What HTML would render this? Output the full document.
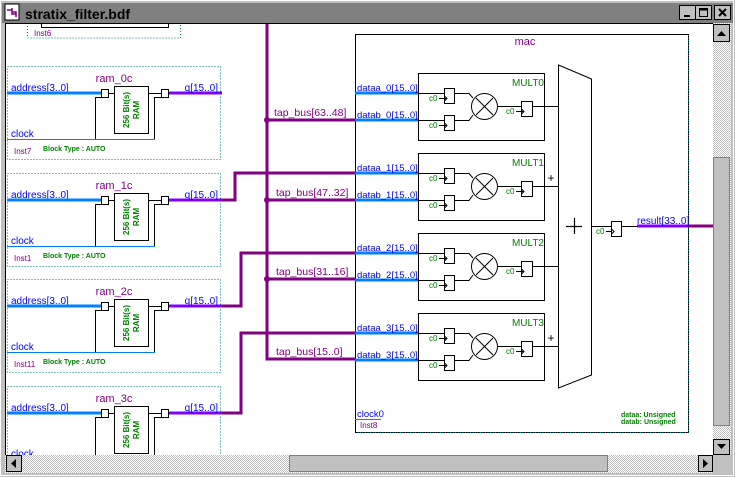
<!DOCTYPE html>
<html><head><meta charset="utf-8"><style>
html,body{margin:0;padding:0;background:#c0c0c0;}
svg{display:block;font-family:"Liberation Sans",sans-serif;}
</style></head><body>
<svg width="735" height="477" viewBox="0 0 735 477" xmlns="http://www.w3.org/2000/svg">
<defs>
<pattern id="chk" width="2" height="2" patternUnits="userSpaceOnUse"><rect width="2" height="2" fill="#fff"/><rect width="1" height="1" fill="#c0c0c0"/><rect x="1" y="1" width="1" height="1" fill="#c0c0c0"/></pattern>
</defs>
<rect x="0" y="0" width="735" height="477" fill="#c0c0c0"/>
<rect x="0.5" y="0.5" width="733" height="475" fill="none" stroke="#fff"/>
<rect x="2" y="3" width="731" height="20" fill="#808080"/>
<g>
<rect x="5" y="4" width="14" height="16" fill="#fff" stroke="#000"/>
<path d="M7 10 H12 M12 8 V14 H16 M12 12 H16 V17" stroke="#800080" stroke-width="1.5" fill="none"/>
</g>
<text x="25" y="19" font-size="14" font-weight="bold" fill="#000">stratix_filter.bdf</text>
<g fill="#c0c0c0" stroke="#000">
<rect x="679.5" y="5.5" width="16" height="14"/><rect x="695.5" y="5.5" width="16" height="14"/><rect x="714.5" y="5.5" width="16" height="14"/>
</g>
<path d="M684 16 H690" stroke="#000" stroke-width="2"/>
<rect x="699.5" y="8.5" width="8" height="8" fill="none" stroke="#000"/><path d="M699 9.5 H708" stroke="#000" stroke-width="2"/>
<path d="M719 9 L726 16 M726 9 L719 16" stroke="#000" stroke-width="2"/>
<rect x="5" y="23" width="708" height="432" fill="#fff"/>
<path d="M5.5 23 V455 M5 23.5 H713" stroke="#000" stroke-width="1"/>
<rect x="713" y="23" width="18" height="432" fill="url(#chk)"/>
<rect x="713.5" y="24.5" width="16" height="17" fill="#c0c0c0" stroke="#000"/>
<path d="M717 36 L721.5 31 L726 36 Z" fill="#000"/>
<rect x="713.5" y="157.5" width="16" height="268" fill="#c0c0c0" stroke="#808080"/>
<rect x="713.5" y="439.5" width="16" height="15" fill="#c0c0c0" stroke="#000"/>
<path d="M717 444 L721.5 449 L726 444 Z" fill="#000"/>
<rect x="5" y="455" width="708" height="18" fill="url(#chk)"/>
<rect x="6.5" y="455.5" width="15" height="16" fill="#c0c0c0" stroke="#000"/>
<path d="M11 463.5 L16 459 L16 468 Z" fill="#000"/>
<rect x="289.5" y="455.5" width="318" height="16" fill="#c0c0c0" stroke="#808080"/>
<rect x="698.5" y="455.5" width="14" height="16" fill="#c0c0c0" stroke="#000"/>
<path d="M708 463.5 L703 459 L703 468 Z" fill="#000"/>
<rect x="713" y="455" width="18" height="18" fill="#c0c0c0"/>

<svg x="6" y="24" width="707" height="431" viewBox="6 24 707 431">
<rect x="27.5" y="10" width="153" height="28" fill="none" stroke="#008080" stroke-dasharray="1,2"/>
<path d="M41.5 20 V27.5 H168.5 V20" fill="none" stroke="#000"/>
<text x="34" y="36" font-size="8" fill="#800080">Inst6</text>

<g>
<rect x="7.5" y="66.5" width="213" height="93" fill="none" stroke="#008080" stroke-dasharray="1,2"/>
<text x="114" y="82" font-size="11" fill="#800080" text-anchor="middle">ram_0c</text>
<text x="11" y="91" font-size="10" fill="#0000ff">address[3..0]</text>
<path d="M7 93 H102" stroke="#0080ff" stroke-width="3"/>
<rect x="101.5" y="89.5" width="7" height="8" fill="#fff" stroke="#000"/>
<rect x="114.5" y="86.5" width="34" height="47" fill="#fff" stroke="#000"/>
<rect x="161.5" y="89.5" width="7" height="8" fill="#fff" stroke="#000"/>
<path d="M108 93.5 H114 M148 93.5 H161 M95.5 97.5 H101 M95.5 97 V139 M154.5 97.5 H161 M154.5 97 V139" stroke="#000" fill="none"/>
<path d="M7 139.5 H155" stroke="#0080ff"/>
<path d="M169 93 H222" stroke="#8000ff" stroke-width="3"/>
<text x="218" y="91" font-size="10" fill="#0000ff" text-anchor="end">q[15..0]</text>
<text x="11" y="137" font-size="10" fill="#0000ff">clock</text>
<text x="14" y="154" font-size="8" fill="#800080">Inst7</text>
<text x="43" y="151" font-size="7" font-weight="bold" fill="#008000">Block Type : AUTO</text>
<text transform="translate(129,110) rotate(-90)" font-size="8" font-weight="bold" fill="#008000" text-anchor="middle">256 Bit(s)</text>
<text transform="translate(139,110) rotate(-90)" font-size="8" font-weight="bold" fill="#008000" text-anchor="middle">RAM</text>
</g>
<g transform="translate(0,107)">
<rect x="7.5" y="66.5" width="213" height="93" fill="none" stroke="#008080" stroke-dasharray="1,2"/>
<text x="114" y="82" font-size="11" fill="#800080" text-anchor="middle">ram_1c</text>
<text x="11" y="91" font-size="10" fill="#0000ff">address[3..0]</text>
<path d="M7 93 H102" stroke="#0080ff" stroke-width="3"/>
<rect x="101.5" y="89.5" width="7" height="8" fill="#fff" stroke="#000"/>
<rect x="114.5" y="86.5" width="34" height="47" fill="#fff" stroke="#000"/>
<rect x="161.5" y="89.5" width="7" height="8" fill="#fff" stroke="#000"/>
<path d="M108 93.5 H114 M148 93.5 H161 M95.5 97.5 H101 M95.5 97 V139 M154.5 97.5 H161 M154.5 97 V139" stroke="#000" fill="none"/>
<path d="M7 139.5 H155" stroke="#0080ff"/>
<path d="M169 93 H222" stroke="#8000ff" stroke-width="3"/>
<text x="218" y="91" font-size="10" fill="#0000ff" text-anchor="end">q[15..0]</text>
<text x="11" y="137" font-size="10" fill="#0000ff">clock</text>
<text x="14" y="154" font-size="8" fill="#800080">Inst1</text>
<text x="43" y="151" font-size="7" font-weight="bold" fill="#008000">Block Type : AUTO</text>
<text transform="translate(129,110) rotate(-90)" font-size="8" font-weight="bold" fill="#008000" text-anchor="middle">256 Bit(s)</text>
<text transform="translate(139,110) rotate(-90)" font-size="8" font-weight="bold" fill="#008000" text-anchor="middle">RAM</text>
</g>
<g transform="translate(0,213)">
<rect x="7.5" y="66.5" width="213" height="93" fill="none" stroke="#008080" stroke-dasharray="1,2"/>
<text x="114" y="82" font-size="11" fill="#800080" text-anchor="middle">ram_2c</text>
<text x="11" y="91" font-size="10" fill="#0000ff">address[3..0]</text>
<path d="M7 93 H102" stroke="#0080ff" stroke-width="3"/>
<rect x="101.5" y="89.5" width="7" height="8" fill="#fff" stroke="#000"/>
<rect x="114.5" y="86.5" width="34" height="47" fill="#fff" stroke="#000"/>
<rect x="161.5" y="89.5" width="7" height="8" fill="#fff" stroke="#000"/>
<path d="M108 93.5 H114 M148 93.5 H161 M95.5 97.5 H101 M95.5 97 V139 M154.5 97.5 H161 M154.5 97 V139" stroke="#000" fill="none"/>
<path d="M7 139.5 H155" stroke="#0080ff"/>
<path d="M169 93 H222" stroke="#8000ff" stroke-width="3"/>
<text x="218" y="91" font-size="10" fill="#0000ff" text-anchor="end">q[15..0]</text>
<text x="11" y="137" font-size="10" fill="#0000ff">clock</text>
<text x="14" y="154" font-size="8" fill="#800080">Inst11</text>
<text x="43" y="151" font-size="7" font-weight="bold" fill="#008000">Block Type : AUTO</text>
<text transform="translate(129,110) rotate(-90)" font-size="8" font-weight="bold" fill="#008000" text-anchor="middle">256 Bit(s)</text>
<text transform="translate(139,110) rotate(-90)" font-size="8" font-weight="bold" fill="#008000" text-anchor="middle">RAM</text>
</g>
<g transform="translate(0,320)">
<rect x="7.5" y="66.5" width="213" height="93" fill="none" stroke="#008080" stroke-dasharray="1,2"/>
<text x="114" y="82" font-size="11" fill="#800080" text-anchor="middle">ram_3c</text>
<text x="11" y="91" font-size="10" fill="#0000ff">address[3..0]</text>
<path d="M7 93 H102" stroke="#0080ff" stroke-width="3"/>
<rect x="101.5" y="89.5" width="7" height="8" fill="#fff" stroke="#000"/>
<rect x="114.5" y="86.5" width="34" height="47" fill="#fff" stroke="#000"/>
<rect x="161.5" y="89.5" width="7" height="8" fill="#fff" stroke="#000"/>
<path d="M108 93.5 H114 M148 93.5 H161 M95.5 97.5 H101 M95.5 97 V139 M154.5 97.5 H161 M154.5 97 V139" stroke="#000" fill="none"/>
<path d="M7 139.5 H155" stroke="#0080ff"/>
<path d="M169 93 H222" stroke="#8000ff" stroke-width="3"/>
<text x="218" y="91" font-size="10" fill="#0000ff" text-anchor="end">q[15..0]</text>
<text x="11" y="137" font-size="10" fill="#0000ff">clock</text>
<text transform="translate(129,110) rotate(-90)" font-size="8" font-weight="bold" fill="#008000" text-anchor="middle">256 Bit(s)</text>
<text transform="translate(139,110) rotate(-90)" font-size="8" font-weight="bold" fill="#008000" text-anchor="middle">RAM</text>
</g>

<g stroke="#800080" stroke-width="3" fill="none">
<path d="M267 24 V359 H355"/>
<path d="M267 120 H355 M267 200 H355 M267 279 H355"/>
<path d="M222 200 H235 V173 H355"/>
<path d="M222 306 H241 V253 H355"/>
<path d="M222 413 H241 V333 H355"/>
</g>
<g fill="#800080"><circle cx="267" cy="120" r="3"/><circle cx="267" cy="200" r="3"/><circle cx="267" cy="279" r="3"/></g>
<g font-size="10.5" fill="#800080">
<text x="274" y="116">tap_bus[63..48]</text>
<text x="276" y="196">tap_bus[47..32]</text>
<text x="276" y="275">tap_bus[31..16]</text>
<text x="276" y="355">tap_bus[15..0]</text>
</g>

<rect x="355.5" y="34.5" width="333" height="398" fill="none" stroke="#000"/>
<path d="M688.5 35 V432.5 H356" fill="none" stroke="#008080" stroke-dasharray="1,1.5"/>
<text x="525" y="45" font-size="11" fill="#800080" text-anchor="middle">mac</text>
<g stroke="#0080ff" stroke-width="3">
<path d="M355 93 H419 M355 120 H419 M355 173 H419 M355 200 H419 M355 253 H419 M355 280 H419 M355 333 H419 M355 360 H419"/>
</g>
<g font-size="9.5" fill="#0000ff">
<text x="357" y="91">dataa_0[15..0]</text><text x="357" y="118">datab_0[15..0]</text>
<text x="357" y="171">dataa_1[15..0]</text><text x="357" y="198">datab_1[15..0]</text>
<text x="357" y="251">dataa_2[15..0]</text><text x="357" y="278">datab_2[15..0]</text>
<text x="357" y="331">dataa_3[15..0]</text><text x="357" y="358">datab_3[15..0]</text>
<text x="357" y="417">clock0</text>
</g>
<path d="M355 419.5 H381" stroke="#0080ff"/>
<text x="360" y="428" font-size="8" fill="#800080">Inst8</text>
<text x="621" y="417" font-size="7" font-weight="bold" fill="#008000">dataa: Unsigned</text>
<text x="621" y="424" font-size="7" font-weight="bold" fill="#008000">datab: Unsigned</text>

<g>
<rect x="418.5" y="73.5" width="126" height="67" fill="#fff" stroke="#000"/>
<text x="544" y="86" font-size="10" fill="#008000" text-anchor="end">MULT0</text>
<rect x="444.5" y="88.5" width="10" height="15" fill="#fff" stroke="#000"/>
<rect x="444.5" y="115.5" width="10" height="15" fill="#fff" stroke="#000"/>
<rect x="521.5" y="101.5" width="11" height="15" fill="#fff" stroke="#000"/>
<circle cx="484.5" cy="106.5" r="13" fill="#fff" stroke="#000"/>
<path d="M476 98 L493 115 M493 98 L476 115 M419 93.5 H444 M419 120.5 H444 M454 93.5 H469 L473 98 M454 120.5 H469 L473 115 M497 106.5 H521 M532 106.5 H558 M439 98.5 H446 M439 125.5 H446 M516 111.5 H523" stroke="#000" fill="none"/>
<path d="M444.5 96 L447 98.5 L444.5 101 M444.5 123 L447 125.5 L444.5 128 M521.5 109 L524 111.5 L521.5 114" stroke="#000" fill="none"/>
<g font-size="8" fill="#008000"><text x="429" y="101">c0</text><text x="429" y="128">c0</text><text x="506" y="114">c0</text></g>
</g>
<g transform="translate(0,80)">
<rect x="418.5" y="73.5" width="126" height="67" fill="#fff" stroke="#000"/>
<text x="544" y="86" font-size="10" fill="#008000" text-anchor="end">MULT1</text>
<rect x="444.5" y="88.5" width="10" height="15" fill="#fff" stroke="#000"/>
<rect x="444.5" y="115.5" width="10" height="15" fill="#fff" stroke="#000"/>
<rect x="521.5" y="101.5" width="11" height="15" fill="#fff" stroke="#000"/>
<circle cx="484.5" cy="106.5" r="13" fill="#fff" stroke="#000"/>
<path d="M476 98 L493 115 M493 98 L476 115 M419 93.5 H444 M419 120.5 H444 M454 93.5 H469 L473 98 M454 120.5 H469 L473 115 M497 106.5 H521 M532 106.5 H558 M439 98.5 H446 M439 125.5 H446 M516 111.5 H523" stroke="#000" fill="none"/>
<path d="M444.5 96 L447 98.5 L444.5 101 M444.5 123 L447 125.5 L444.5 128 M521.5 109 L524 111.5 L521.5 114" stroke="#000" fill="none"/>
<g font-size="8" fill="#008000"><text x="429" y="101">c0</text><text x="429" y="128">c0</text><text x="506" y="114">c0</text></g>
<text x="551" y="102" font-size="12" fill="#000" text-anchor="middle">+</text>
</g>
<g transform="translate(0,160)">
<rect x="418.5" y="73.5" width="126" height="67" fill="#fff" stroke="#000"/>
<text x="544" y="86" font-size="10" fill="#008000" text-anchor="end">MULT2</text>
<rect x="444.5" y="88.5" width="10" height="15" fill="#fff" stroke="#000"/>
<rect x="444.5" y="115.5" width="10" height="15" fill="#fff" stroke="#000"/>
<rect x="521.5" y="101.5" width="11" height="15" fill="#fff" stroke="#000"/>
<circle cx="484.5" cy="106.5" r="13" fill="#fff" stroke="#000"/>
<path d="M476 98 L493 115 M493 98 L476 115 M419 93.5 H444 M419 120.5 H444 M454 93.5 H469 L473 98 M454 120.5 H469 L473 115 M497 106.5 H521 M532 106.5 H558 M439 98.5 H446 M439 125.5 H446 M516 111.5 H523" stroke="#000" fill="none"/>
<path d="M444.5 96 L447 98.5 L444.5 101 M444.5 123 L447 125.5 L444.5 128 M521.5 109 L524 111.5 L521.5 114" stroke="#000" fill="none"/>
<g font-size="8" fill="#008000"><text x="429" y="101">c0</text><text x="429" y="128">c0</text><text x="506" y="114">c0</text></g>
</g>
<g transform="translate(0,240)">
<rect x="418.5" y="73.5" width="126" height="67" fill="#fff" stroke="#000"/>
<text x="544" y="86" font-size="10" fill="#008000" text-anchor="end">MULT3</text>
<rect x="444.5" y="88.5" width="10" height="15" fill="#fff" stroke="#000"/>
<rect x="444.5" y="115.5" width="10" height="15" fill="#fff" stroke="#000"/>
<rect x="521.5" y="101.5" width="11" height="15" fill="#fff" stroke="#000"/>
<circle cx="484.5" cy="106.5" r="13" fill="#fff" stroke="#000"/>
<path d="M476 98 L493 115 M493 98 L476 115 M419 93.5 H444 M419 120.5 H444 M454 93.5 H469 L473 98 M454 120.5 H469 L473 115 M497 106.5 H521 M532 106.5 H558 M439 98.5 H446 M439 125.5 H446 M516 111.5 H523" stroke="#000" fill="none"/>
<path d="M444.5 96 L447 98.5 L444.5 101 M444.5 123 L447 125.5 L444.5 128 M521.5 109 L524 111.5 L521.5 114" stroke="#000" fill="none"/>
<g font-size="8" fill="#008000"><text x="429" y="101">c0</text><text x="429" y="128">c0</text><text x="506" y="114">c0</text></g>
<text x="551" y="102" font-size="12" fill="#000" text-anchor="middle">+</text>
</g>

<path d="M558.5 65 L591.5 79 V375 L558.5 388 Z" fill="#fff" stroke="#000"/>
<path d="M566 226.5 H582 M574.5 218 V234" stroke="#000" stroke-width="1.2"/>
<path d="M591 226.5 H611 M606 231.5 H613" stroke="#000"/>
<rect x="611.5" y="221.5" width="10" height="15" fill="#fff" stroke="#000"/>
<path d="M611.5 229 L614 231.5 L611.5 234 M621 226.5 H637" stroke="#000" fill="none"/>
<text x="596" y="234" font-size="8" fill="#008000">c0</text>
<path d="M637 226 H688" stroke="#8000ff" stroke-width="3"/>
<path d="M688 226 H713" stroke="#800080" stroke-width="3"/>
<text x="637" y="224" font-size="10" fill="#0000ff">result[33..0]</text>
</svg>
</svg>
</body></html>
